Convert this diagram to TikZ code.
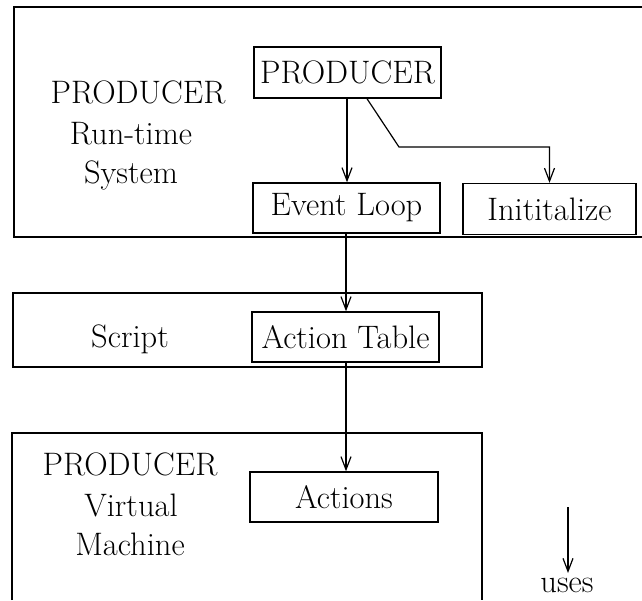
\documentclass[tikz,border=0pt]{standalone}
\usetikzlibrary{arrows.meta}
\begin{document}
\begin{tikzpicture}[x=1pt,y=-1pt,
  every node/.style={font=\fontsize{32.5}{38}\selectfont},
  frame/.style={line width=1.4pt},
  box/.style={draw,line width=1.4pt,inner sep=0pt,rectangle},
  lbl/.style={anchor=base,inner sep=0pt},
  conn/.style={line width=1.2pt,-{Straight Barb[length=13pt,width=10pt,line width=1.2pt]}}]
\useasboundingbox (0,0) rectangle (642,600);
% outer frames
\draw[frame] (642,7) -- (14,7) -- (14,237) -- (642,237);
\draw[frame] (13,293) rectangle (482,367);
\draw[frame] (12,600) -- (12,433) -- (482,433) -- (482,600);
% left labels
\node[lbl] (l1) at (138,103) {PRODUCER};
\node[lbl] (l2) at (131,144) {Run-time};
\node[lbl] (l3) at (131,183) {System};
\node[lbl] (l4) at (130,347) {Script};
\node[lbl] (l5) at (130,475) {PRODUCER};
\node[lbl] (l6) at (131,516) {Virtual};
\node[lbl] (l7) at (130,555) {Machine};
% boxes
\node[box,minimum width=187pt,minimum height=51pt] (prod) at (347.5,72.5) {PRODUCER};
\node[box,minimum width=187pt,minimum height=50pt] (ev) at (346.5,208) {Event Loop};
\node[box,minimum width=173pt,minimum height=51pt] (init) at (549.5,209) {Inititalize};
\node[box,minimum width=187pt,minimum height=50pt] (at) at (345.5,337) {Action Table};
\node[box,minimum width=188pt,minimum height=50pt] (act) at (344,497) {Actions};
% connectors
\draw[conn] (prod.south -| 347,0) -- (ev.north -| 347,0);
\coordinate (bend) at (399,147);
\draw[conn] (prod.south -| 367,0) -- (bend) -- (bend -| init.north) -- (init.north);
\draw[conn] (ev.south -| 346,0) -- (at.north -| 346,0);
\draw[conn] (at.south -| 346,0) -- (act.north -| 346,0);
% legend
\coordinate (ustart) at (568,507);
\node[lbl] (uses) at (567,592) {uses};
\draw[conn] (ustart) -- (568,573);
\end{tikzpicture}
\end{document}
